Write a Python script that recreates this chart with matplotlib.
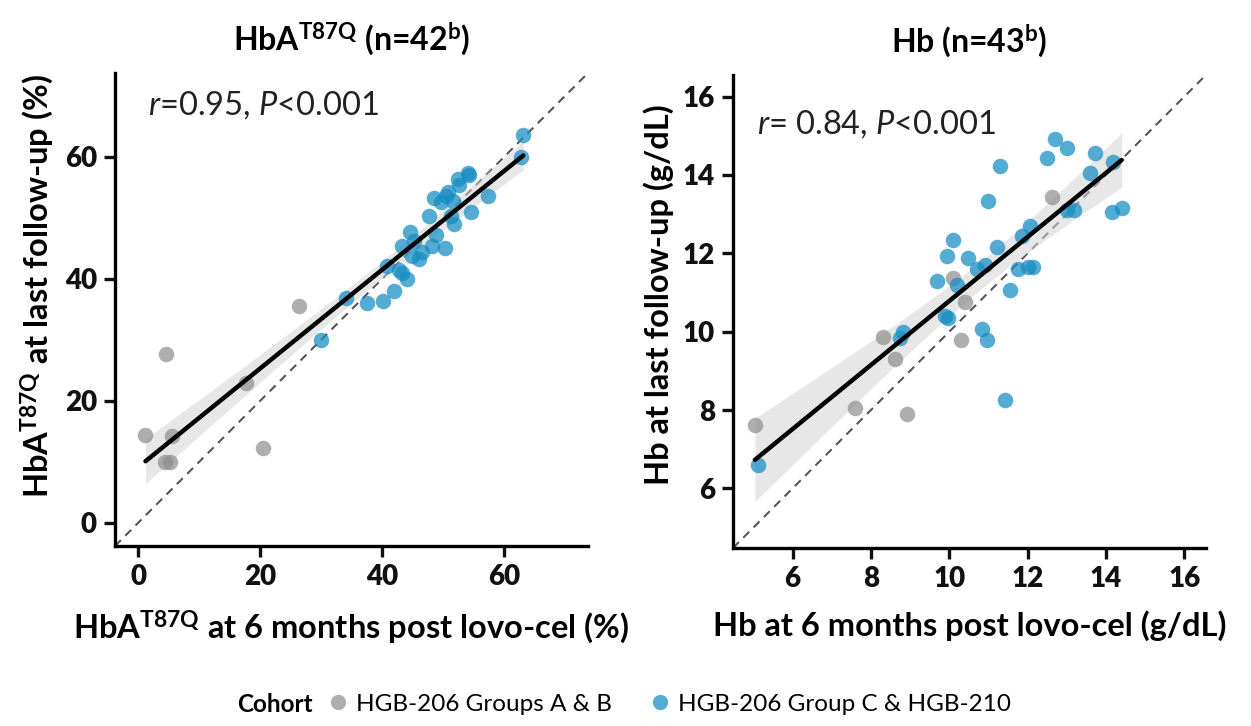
import numpy as np
import matplotlib
matplotlib.use("Agg")
import matplotlib.pyplot as plt
from matplotlib.lines import Line2D

plt.rcParams['font.family'] = ['Lato', 'DejaVu Sans']
plt.rcParams['font.weight'] = 'bold'
plt.rcParams['mathtext.fontset'] = 'custom'
plt.rcParams['mathtext.rm'] = 'Lato'
plt.rcParams['mathtext.it'] = 'Lato:italic:normal'
plt.rcParams['mathtext.bf'] = 'Lato:bold'

# HbA T87Q (%) : 6 months vs last follow-up
hba_ab_6m = [1.2, 4.5, 4.4, 5.2, 5.6, 17.7, 20.4, 26.4]
hba_ab_last = [14.4, 27.6, 10.0, 9.9, 14.2, 22.9, 12.2, 35.6]
hba_c_6m = [29.9, 34.0, 37.5, 40.1, 42.0, 44.1, 43.3, 40.7, 46.0, 46.5,
            50.2, 48.1, 43.3, 44.6, 51.8, 54.5, 47.6, 57.4, 51.6, 50.5,
            48.4, 52.6, 52.4, 54.0, 62.7, 63.1,
            54.2, 49.6, 45.2, 42.8, 48.8, 51.2, 44.8, 50.8]
hba_c_last = [29.9, 36.9, 36.1, 36.4, 38.0, 39.9, 41.0, 42.1, 43.2, 44.3,
              45.1, 45.4, 45.4, 47.6, 49.0, 50.9, 50.3, 53.6, 52.8, 53.6,
              53.3, 55.3, 56.4, 57.4, 59.9, 63.5,
              57.0, 52.6, 46.2, 41.4, 47.2, 50.3, 43.8, 54.2]

# Hb (g/dL) : 6 months vs last follow-up
hb_ab_6m = [5.04, 7.59, 8.93, 8.31, 8.61, 10.10, 10.40, 10.31, 12.61]
hb_ab_last = [7.63, 8.04, 7.90, 9.87, 9.30, 11.38, 10.75, 9.78, 13.44]
hb_c_6m = [5.12, 8.83, 8.75, 9.68, 9.93, 10.10, 9.89, 9.97, 10.19, 10.49,
           10.70, 10.91, 10.83, 10.95, 11.00, 11.29, 11.21, 11.55, 11.42, 11.76,
           11.85, 12.06, 12.02, 12.14, 12.49, 12.70, 13.00, 13.00, 13.17, 13.59,
           13.72, 14.14, 14.40, 14.19]
hb_c_last = [6.59, 9.98, 9.85, 11.29, 11.93, 12.33, 10.39, 10.34, 11.20, 11.88,
             11.61, 11.70, 10.07, 9.80, 13.33, 14.24, 12.15, 11.07, 8.26, 11.61,
             12.43, 12.70, 11.66, 11.66, 14.42, 14.91, 14.69, 13.10, 13.10, 14.05,
             14.55, 13.06, 13.15, 14.33]

GRAY = '#8c8c8c'
BLUE = '#148cc3'


def draw_panel(ax, x_ab, y_ab, x_c, y_c, lims, ticks, stats_txt, stats_xy,
               title, xlabel, ylabel, ylabel_y):
    x_all = np.array(x_ab + x_c)
    y_all = np.array(y_ab + y_c)

    # identity line
    ax.plot(lims, lims, ls=(0, (4, 3)), color='#555555', lw=1.5, zorder=1)

    # linear fit + 95% CI
    n = len(x_all)
    slope, intercept = np.polyfit(x_all, y_all, 1)
    xs = np.linspace(x_all.min(), x_all.max(), 100)
    ys = intercept + slope * xs
    resid = y_all - (intercept + slope * x_all)
    s = np.sqrt(np.sum(resid ** 2) / (n - 2))
    sxx = np.sum((x_all - x_all.mean()) ** 2)
    se = s * np.sqrt(1.0 / n + (xs - x_all.mean()) ** 2 / sxx)
    ax.fill_between(xs, ys - 2.02 * se, ys + 2.02 * se, color='#d4d4d4',
                    alpha=0.55, lw=0, zorder=2)

    ax.scatter(x_ab, y_ab, s=125, color=GRAY, alpha=0.7, lw=0, zorder=3)
    ax.scatter(x_c, y_c, s=125, color=BLUE, alpha=0.72, lw=0, zorder=3)
    ax.plot(xs, ys, color='black', lw=3.2, zorder=4, solid_capstyle='round')

    ax.set_xlim(lims)
    ax.set_ylim(lims)
    ax.tick_params(width=2.4, length=8, pad=5, colors='#111111')
    tick_lbls = [str(t) for t in ticks]
    ax.set_xticks(ticks)
    ax.set_yticks(ticks)
    ax.set_xticklabels(tick_lbls, fontdict={'fontsize': 20, 'fontweight': 'heavy'})
    ax.set_yticklabels(tick_lbls, fontdict={'fontsize': 20, 'fontweight': 'heavy'})
    for side in ['top', 'right']:
        ax.spines[side].set_visible(False)
    for side in ['left', 'bottom']:
        ax.spines[side].set_linewidth(2.4)

    ax.text(stats_xy[0], stats_xy[1], stats_txt, fontsize=23.5, va='center',
            ha='left', color='#222222', fontweight='normal')
    ax.set_title(title, fontsize=23, fontweight='bold', pad=16)
    ax.set_xlabel(xlabel, fontsize=23.5, fontweight='bold', labelpad=13)
    ax.set_ylabel(ylabel, fontsize=23.5, fontweight='bold', labelpad=6,
                  y=ylabel_y)


fig = plt.figure(figsize=(12.51, 7.26), dpi=100)
ax1 = fig.add_axes([0.0919, 0.2479, 0.3781, 0.6515])
ax2 = fig.add_axes([0.5859, 0.2452, 0.3781, 0.6515])

draw_panel(ax1, hba_ab_6m, hba_ab_last, hba_c_6m, hba_c_last,
           (-3.8, 73.7), [0, 20, 40, 60],
           r'$\mathit{r}$=0.95, $\mathit{P}$<0.001', (1.6, 68.5),
           r'HbA$^{\mathrm{T87Q}}$ (n=42$^{\mathrm{b}}$)',
           r'HbA$^{\mathbf{T87Q}}$ at 6 months post lovo-cel (%)',
           r'HbA$^{\mathbf{T87Q}}$ at last follow-up (%)', 0.55)

draw_panel(ax2, hb_ab_6m, hb_ab_last, hb_c_6m, hb_c_last,
           (4.48, 16.55), [6, 8, 10, 12, 14, 16],
           r'$\mathit{r}$= 0.84, $\mathit{P}$<0.001', (5.09, 15.3),
           r'Hb (n=43$^{\mathrm{b}}$)',
           'Hb at 6 months post lovo-cel (g/dL)',
           'Hb at last follow-up (g/dL)', 0.535)

# cohort legend
fig.text(0.2198, 0.03, 'Cohort', fontsize=17.5, fontweight='bold',
         ha='center', va='center')
handles = [
    Line2D([], [], ls='none', marker='o', ms=11, color=GRAY, alpha=0.7, mew=0),
    Line2D([], [], ls='none', marker='o', ms=11, color=BLUE, alpha=0.72, mew=0),
]
fig.legend(handles, ['HGB-206 Groups A & B', 'HGB-206 Group C & HGB-210'],
           loc='center left', bbox_to_anchor=(0.245, 0.03), ncol=2,
           frameon=False, prop={'size': 17.5, 'weight': 'normal'},
           handletextpad=0.35, columnspacing=1.55, handlelength=0.8)

fig.savefig('out.png', dpi=100, facecolor='white')
